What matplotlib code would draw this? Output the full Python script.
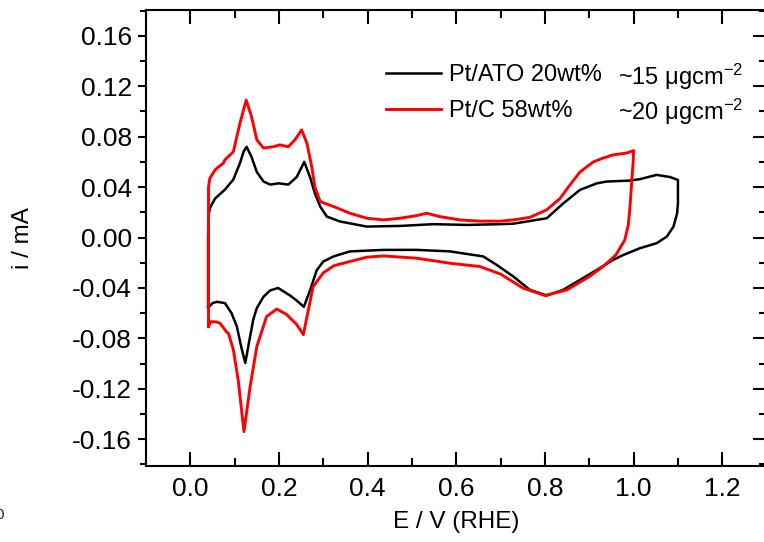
import matplotlib
matplotlib.use("Agg")
import matplotlib.pyplot as plt
from matplotlib.ticker import MultipleLocator, FormatStrFormatter

plt.rcParams['font.family'] = ['Liberation Sans', 'DejaVu Sans']
plt.rcParams['mathtext.fontset'] = 'custom'
plt.rcParams['mathtext.rm'] = 'Liberation Sans'
plt.rcParams['mathtext.it'] = 'Liberation Sans'
plt.rcParams['axes.unicode_minus'] = False

# Pt/ATO 20wt% cyclic voltammogram (E in V vs RHE, i in mA)
ato_E = [0.040, 0.040, 0.041, 0.045, 0.056, 0.078, 0.097, 0.112, 0.120, 0.127,
         0.138, 0.150, 0.165, 0.180, 0.199, 0.221, 0.240, 0.257, 0.270, 0.281,
         0.293, 0.308, 0.338, 0.398, 0.473, 0.548, 0.623, 0.699, 0.729, 0.804,
         0.841, 0.879, 0.917, 0.939, 0.992, 1.014, 1.052, 1.082, 1.100,
         1.100, 1.098, 1.090, 1.075, 1.052, 1.014, 0.977, 0.954, 0.917, 0.879,
         0.841, 0.804, 0.766, 0.729, 0.691, 0.661, 0.586, 0.511, 0.436, 0.360,
         0.323, 0.300, 0.285, 0.270, 0.256, 0.240, 0.225, 0.198, 0.180, 0.165,
         0.150, 0.142, 0.133, 0.124, 0.115, 0.105, 0.093, 0.078, 0.060, 0.050,
         0.042, 0.040]
ato_i = [-0.055, 0.000, 0.018, 0.024, 0.031, 0.038, 0.046, 0.059, 0.068, 0.072,
         0.064, 0.052, 0.0445, 0.042, 0.043, 0.042, 0.048, 0.060, 0.048, 0.035,
         0.0246, 0.0166, 0.0127, 0.0087, 0.0092, 0.0106, 0.0100, 0.0106, 0.0110, 0.0153,
         0.027, 0.0378, 0.043, 0.0444, 0.0452, 0.0463, 0.0497, 0.048, 0.0457,
         0.027, 0.019, 0.0087, 0.0008, -0.0045, -0.0085, -0.0138, -0.0177, -0.0257, -0.0336,
         -0.0415, -0.046, -0.0415, -0.031, -0.0217, -0.015, -0.011, -0.0098, -0.0098, -0.011,
         -0.015, -0.019, -0.026, -0.042, -0.055, -0.050, -0.046, -0.040, -0.042, -0.047,
         -0.056, -0.065, -0.082, -0.0995, -0.087, -0.0706, -0.060, -0.052, -0.051, -0.052,
         -0.055, -0.055]

# Pt/C 58wt% cyclic voltammogram
c_E = [0.041, 0.041, 0.041, 0.044, 0.056, 0.060, 0.0745, 0.078, 0.097, 0.112,
       0.126, 0.138, 0.150, 0.165, 0.187, 0.202, 0.221, 0.236, 0.251, 0.263,
       0.274, 0.281, 0.293, 0.323, 0.360, 0.398, 0.436, 0.473, 0.511, 0.533,
       0.563, 0.608, 0.653, 0.699, 0.729, 0.766, 0.804, 0.834, 0.857, 0.879,
       0.909, 0.931, 0.954, 0.984, 1.000,
       0.999, 0.996, 0.992, 0.988, 0.980, 0.960, 0.931, 0.900, 0.850, 0.800,
       0.750, 0.700, 0.653, 0.586, 0.511, 0.436, 0.398, 0.338, 0.323, 0.300,
       0.277, 0.263, 0.255, 0.240, 0.217, 0.195, 0.172, 0.150, 0.135, 0.121,
       0.108, 0.097, 0.086, 0.082, 0.067, 0.060, 0.046, 0.041]
c_i = [-0.0706, 0.000, 0.040, 0.047, 0.0537, 0.055, 0.059, 0.0616, 0.068, 0.0907,
       0.109, 0.096, 0.0775, 0.071, 0.072, 0.0735, 0.072, 0.0775, 0.0854, 0.0748,
       0.056, 0.040, 0.0285, 0.0246, 0.0193, 0.0153, 0.014, 0.0153, 0.0174, 0.0193,
       0.0166, 0.014, 0.0130, 0.0130, 0.014, 0.016, 0.022, 0.031, 0.042, 0.052,
       0.060, 0.063, 0.0656, 0.067, 0.069,
       0.060, 0.046, 0.025, 0.010, -0.002, -0.0138, -0.023, -0.031, -0.0415, -0.046,
       -0.040, -0.029, -0.023, -0.0204, -0.0164, -0.0146, -0.0156, -0.021, -0.0225, -0.028,
       -0.039, -0.063, -0.077, -0.069, -0.061, -0.0567, -0.0627, -0.0865, -0.118, -0.154,
       -0.113, -0.089, -0.076, -0.075, -0.068, -0.067, -0.0667, -0.0706]

ato_label = "Pt/ATO 20wt%"
c_label = "Pt/C 58wt%"
ato_loading = "~15 μgcm$^{-2}$"
c_loading = "~20 μgcm$^{-2}$"

W, H = 764, 542
fig = plt.figure(figsize=(W / 100, H / 100), dpi=100)
ax = fig.add_axes([146 / W, (H - 465.7) / H, 620.6 / W, 455.7 / H])

ax.plot(ato_E, ato_i, color='black', lw=1.8, label=ato_label, solid_joinstyle='round')
ax.plot(c_E, c_i, color='#ff0000', lw=2.1, label=c_label, solid_joinstyle='round')

ax.set_xlim(-0.1, 1.3)
ax.set_ylim(-0.181, 0.1805)

ax.xaxis.set_major_locator(MultipleLocator(0.2))
ax.xaxis.set_minor_locator(MultipleLocator(0.1))
ax.yaxis.set_major_locator(MultipleLocator(0.04))
ax.yaxis.set_minor_locator(MultipleLocator(0.02))
ax.xaxis.set_major_formatter(FormatStrFormatter('%.1f'))
ax.yaxis.set_major_formatter(FormatStrFormatter('%.2f'))

for s in ax.spines.values():
    s.set_linewidth(1.5)

ax.tick_params(axis='x', which='both', direction='in', top=True, bottom=True,
               labelsize=19, pad=8, width=1.5)
ax.tick_params(axis='x', which='major', length=10)
ax.tick_params(axis='x', which='minor', length=6)
ax.tick_params(axis='y', which='both', direction='out', left=True, right=False,
               labelsize=19, pad=4, width=1.5)
ax.tick_params(axis='y', which='major', length=6)
ax.tick_params(axis='y', which='minor', length=4)

# right-hand ticks point inward from the right spine
ax2 = ax.secondary_yaxis('right')
ax2.yaxis.set_major_locator(MultipleLocator(0.04))
ax2.yaxis.set_minor_locator(MultipleLocator(0.02))
ax2.tick_params(which='both', direction='in', labelright=False, width=1.5)
ax2.tick_params(which='major', length=10)
ax2.tick_params(which='minor', length=6)
ax2.spines['right'].set_linewidth(1.5)

ax.set_xlabel("E / V (RHE)", fontsize=17.5)
ax.set_ylabel("i / mA", fontsize=17.5)
ax.yaxis.set_label_coords(-(146 - 34) / 620.6, 0.5)
ax.xaxis.set_label_coords(0.5, -(511 - 465.7) / 455.7)

leg = ax.legend(loc='upper left', bbox_to_anchor=((386 - 146) / 620.6, (465.7 - 64) / 455.7),
                frameon=False, fontsize=17, handlelength=2.35, handletextpad=0.3,
                borderpad=0, borderaxespad=0, labelspacing=0.6)

ax.text((618 - 146) / 620.6, (465.7 - 85) / 455.7, ato_loading, transform=ax.transAxes,
        fontsize=17, va='baseline', ha='left')
ax.text((618 - 146) / 620.6, (465.7 - 120) / 455.7, c_loading, transform=ax.transAxes,
        fontsize=17, va='baseline', ha='left')

fig.text(4 / W, 1 - 515 / H, "0", fontsize=11, ha='right', va='center', color='#222222')

fig.savefig("out.png", dpi=100)
